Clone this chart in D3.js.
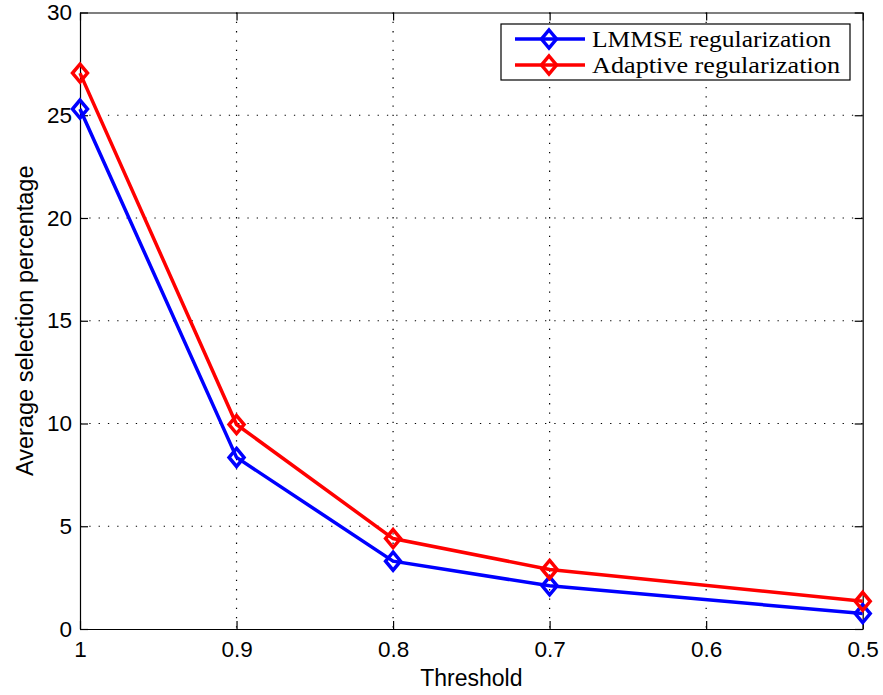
<!DOCTYPE html>
<html>
<head>
<meta charset="utf-8">
<script src="https://cdn.jsdelivr.net/npm/d3@7"></script>
<style>
  body { margin: 0; background: #fff; }
  svg text { font-family: "Liberation Sans", Arial, sans-serif; }
</style>
</head>
<body>
<div id="my_dataviz"></div>
<script>
// chart data
var thresholds = [1, 0.9, 0.8, 0.7, 0.5];
var lmmse = [25.3, 8.35, 3.3, 2.1, 0.75];
var adaptive = [27.05, 9.95, 4.4, 2.9, 1.35];
var seriesNames = ["LMMSE regularization", "Adaptive regularization"];
var xTicks = [1, 0.9, 0.8, 0.7, 0.6, 0.5];
var yTicks = [0, 5, 10, 15, 20, 25, 30];

var W = 883, H = 695;
var margin = {top: 12.5, right: 20.3, bottom: 66, left: 80},
    width = W - margin.left - margin.right,
    height = H - margin.top - margin.bottom;

var svg = d3.select("#my_dataviz")
  .append("svg")
    .attr("width", W)
    .attr("height", H)
  .append("g")
    .attr("transform", "translate(" + margin.left + "," + margin.top + ")");

var x = d3.scaleLinear().domain([1, 0.5]).range([0, width]);
var y = d3.scaleLinear().domain([0, 30]).range([height, 0]);

// dotted grid
svg.append("g").selectAll("line")
  .data(xTicks.slice(1, -1))
  .enter().append("line")
    .attr("x1", d => x(d)).attr("x2", d => x(d))
    .attr("y1", 0).attr("y2", height)
    .attr("stroke", "#000").attr("stroke-width", 1.2)
    .attr("stroke-dasharray", "1.3,8");
svg.append("g").selectAll("line")
  .data(yTicks.slice(1, -1))
  .enter().append("line")
    .attr("y1", d => y(d)).attr("y2", d => y(d))
    .attr("x1", 0).attr("x2", width)
    .attr("stroke", "#000").attr("stroke-width", 1.2)
    .attr("stroke-dasharray", "1.3,8");

var fmtX = function(d) { return d === 1 ? "1" : d3.format(".1f")(d); };

// axes, ticks pointing inward
var xAxis = svg.append("g")
  .attr("transform", "translate(0," + height + ")")
  .call(d3.axisBottom(x).tickValues(xTicks).tickFormat(fmtX).tickSizeInner(-8).tickSizeOuter(0).tickPadding(12));
var xTop = svg.append("g")
  .call(d3.axisTop(x).tickValues(xTicks).tickFormat("").tickSizeInner(-8).tickSizeOuter(0));
var yAxis = svg.append("g")
  .call(d3.axisLeft(y).tickValues(yTicks).tickSizeInner(-8).tickSizeOuter(0).tickPadding(8));
var yRight = svg.append("g")
  .attr("transform", "translate(" + width + ",0)")
  .call(d3.axisRight(y).tickValues(yTicks).tickFormat("").tickSizeInner(-8).tickSizeOuter(0));

svg.selectAll(".tick text")
  .attr("font-size", "22.5px")
  .attr("font-family", "'Liberation Sans', Arial, sans-serif")
  .attr("fill", "#000");
svg.selectAll(".domain, .tick line").attr("stroke", "#000").attr("stroke-width", 1.2);

// axis labels
svg.append("text")
  .attr("x", width / 2)
  .attr("y", height + 57)
  .attr("font-size", "23px")
  .style("text-anchor", "middle")
  .text("Threshold");

svg.append("text")
  .attr("transform", "rotate(-90)")
  .attr("x", -height / 2)
  .attr("y", 33 - margin.left)
  .attr("font-size", "23.5px")
  .style("text-anchor", "middle")
  .text("Average selection percentage");

// lines and markers
var line = d3.line()
  .x(function(d, i) { return x(thresholds[i]); })
  .y(function(d) { return y(d); });

function diamond(g, cx, cy, color) {
  var ry = 9, rx = 7.5;
  g.append("path")
    .attr("d", "M" + cx + "," + (cy - ry) + "L" + (cx + rx) + "," + cy +
               "L" + cx + "," + (cy + ry) + "L" + (cx - rx) + "," + cy + "Z")
    .attr("fill", "none")
    .attr("stroke", color)
    .attr("stroke-width", 3.5);
}

var series = [
  {name: seriesNames[0], values: lmmse, color: "#0000ff", len: 239},
  {name: seriesNames[1], values: adaptive, color: "#ff0000", len: 248}
];

series.forEach(function(s) {
  svg.append("path")
    .datum(s.values)
    .attr("d", line)
    .attr("fill", "none")
    .attr("stroke", s.color)
    .attr("stroke-width", 3.5);
  var g = svg.append("g");
  s.values.forEach(function(v, i) {
    diamond(g, x(thresholds[i]), y(v), s.color);
  });
});

// legend
var legend = svg.append("g")
  .attr("transform", "translate(" + (501 - margin.left) + "," + (24 - margin.top) + ")");
legend.append("rect")
  .attr("width", 349).attr("height", 56)
  .attr("fill", "#fff").attr("stroke", "#000").attr("stroke-width", 1.2);
series.forEach(function(s, i) {
  var ly = 15 + i * 26;
  legend.append("line")
    .attr("x1", 14).attr("x2", 84)
    .attr("y1", ly).attr("y2", ly)
    .attr("stroke", s.color).attr("stroke-width", 3.5);
  diamond(legend, 48, ly, s.color);
  legend.append("text")
    .attr("x", 91)
    .attr("y", ly)
    .attr("dy", "0.33em")
    .attr("font-size", "23px")
    .attr("textLength", s.len)
    .attr("lengthAdjust", "spacingAndGlyphs")
    .style("font-family", "'Liberation Serif', 'Times New Roman', serif")
    .text(s.name);
});
</script>
</body>
</html>
